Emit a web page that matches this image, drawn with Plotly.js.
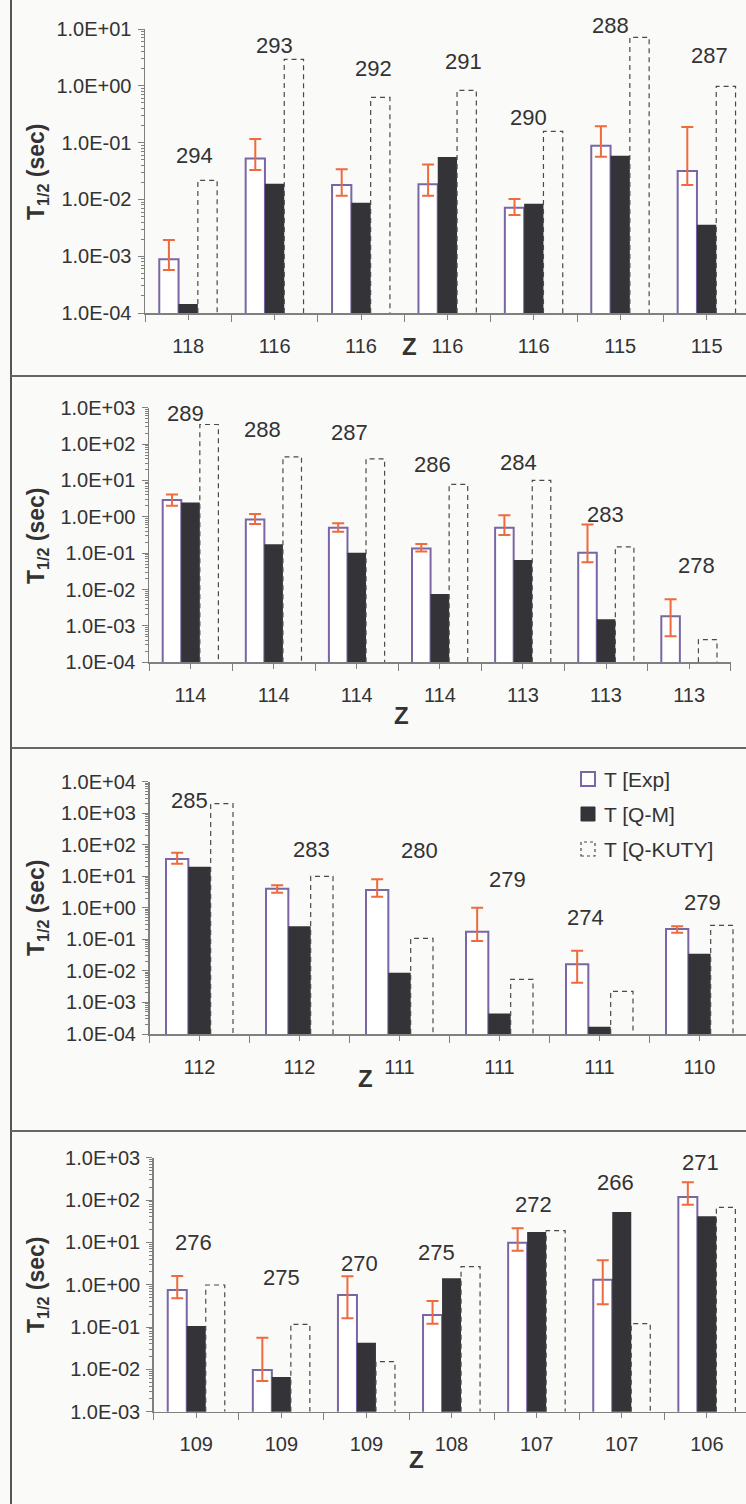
<!DOCTYPE html>
<html>
<head>
<meta charset="utf-8">
<script src="https://cdn.plot.ly/plotly-3.0.1.min.js"></script>
<style>
  html, body { margin: 0; padding: 0; background: #fafaf8; }
  #chart { width: 746px; height: 1504px; }
</style>
</head>
<body>
<div id="chart"></div>
<script>
// ---------------- DATA ----------------
// Panel 1
const p1Z      = ["118", "116", "116", "116", "116", "115", "115"];
const p1A      = ["294", "293", "292", "291", "290", "288", "287"];
const p1Exp    = [8.8e-4, 0.0525, 0.0179, 0.0185, 0.0071, 0.088, 0.0316];
const p1ExpHi  = [1.93e-3, 0.116, 0.034, 0.041, 0.0102, 0.194, 0.188];
const p1ExpLo  = [5.7e-4, 0.033, 0.0116, 0.0116, 0.0053, 0.0565, 0.0179];
const p1QM     = [1.44e-4, 0.0189, 0.00875, 0.0558, 0.0084, 0.0589, 0.00359];
const p1KUTY   = [0.0217, 2.93, 0.627, 0.83, 0.158, 7.14, 0.977];
const p1YTicks = ["1.0E-04", "1.0E-03", "1.0E-02", "1.0E-01", "1.0E+00", "1.0E+01"];

// Panel 2
const p2Z      = ["114", "114", "114", "114", "113", "113", "113"];
const p2A      = ["289", "288", "287", "286", "284", "283", "278"];
const p2Exp    = [2.88, 0.849, 0.499, 0.1355, 0.499, 0.1025, 0.00184];
const p2ExpHi  = [4.12, 1.19, 0.67, 0.178, 1.11, 0.618, 0.00538];
const p2ExpLo  = [2.0, 0.63, 0.388, 0.112, 0.314, 0.0559, 5.18e-4];
const p2QM     = [2.48, 0.175, 0.1025, 0.00752, 0.0646, 0.00152, null];
const p2KUTY   = [345, 44.5, 39.2, 7.77, 10.0, 0.15, 4.18e-4];
const p2YTicks = ["1.0E-04", "1.0E-03", "1.0E-02", "1.0E-01", "1.0E+00", "1.0E+01", "1.0E+02", "1.0E+03"];

// Panel 3
const p3Z      = ["112", "112", "111", "111", "111", "110"];
const p3A      = ["285", "283", "280", "279", "274", "279"];
const p3Exp    = [35.3, 4.05, 3.68, 0.175, 0.0162, 0.213];
const p3ExpHi  = [56.1, 5.18, 8.0, 1.01, 0.0438, 0.26];
const p3ExpLo  = [25.1, 3.02, 2.26, 0.089, 0.00424, 0.163];
const p3QM     = [20.2, 0.26, 0.0088, 4.5e-4, 1.71e-4, 0.0352];
const p3KUTY   = [2003, 10.0, 0.108, 0.0054, 0.00225, 0.279];
const p3YTicks = ["1.0E-04", "1.0E-03", "1.0E-02", "1.0E-01", "1.0E+00", "1.0E+01", "1.0E+02", "1.0E+03", "1.0E+04"];

// Panel 4
const p4Z      = ["109", "109", "109", "108", "107", "107", "106"];
const p4A      = ["276", "275", "270", "275", "272", "266", "271"];
const p4Exp    = [0.75, 0.00966, 0.571, 0.192, 9.84, 1.31, 118];
const p4ExpHi  = [1.61, 0.056, 1.58, 0.412, 21.5, 3.77, 262];
const p4ExpLo  = [0.477, 0.0053, 0.161, 0.12, 6.37, 0.344, 77.8];
const p4QM     = [0.106, 0.0066, 0.0427, 1.416, 17.6, 52.2, 41.2];
const p4KUTY   = [0.985, 0.116, 0.0152, 2.67, 18.9, 0.12, 67.3];
const p4YTicks = ["1.0E-03", "1.0E-02", "1.0E-01", "1.0E+00", "1.0E+01", "1.0E+02", "1.0E+03"];

const seriesNames = ["T [Exp]", "T [Q-M]", "T [Q-KUTY]"];

// ---------------- LAYOUT GEOMETRY (pixels) ----------------
const W = 746, H = 1504;
const FONT = "Liberation Sans, Arial, Helvetica, sans-serif";
const TXT = "#333333";
const AXC = "#808080";
const EXP_LINE = "#7a66a4";
const QM_FILL = "#343337";
const KUTY_LINE = "#4a4a4a";
const ERR_C = "#ef6a3c";
const BARGAP = 0.33;

const panels = [
  { z: p1Z, a: p1A, exp: p1Exp, hi: p1ExpHi, lo: p1ExpLo, qm: p1QM, ku: p1KUTY, yt: p1YTicks,
    x0: 145, cw: 86.4, yTop: 29, yBot: 313,
    lblDx: [6, 0, 12, 16, -5, -10, 3], lblDy: [25, 14, 29, 29, 14, 12, 31],
    zPos: [409, 346], tPos: 172 },
  { z: p2Z, a: p2A, exp: p2Exp, hi: p2ExpHi, lo: p2ExpLo, qm: p2QM, ku: p2KUTY, yt: p2YTicks,
    x0: 149, cw: 83.1, yTop: 407.7, yBot: 662.3,
    lblDx: [-5, -11, -7, -7, -4, -1, 7], lblDy: [11, 27, 26, 20, 18, 10, 34],
    zPos: [401, 715], tPos: 536 },
  { z: p3Z, a: p3A, exp: p3Exp, hi: p3ExpHi, lo: p3ExpLo, qm: p3QM, ku: p3KUTY, yt: p3YTicks,
    x0: 149.5, cw: 100, yTop: 781.7, yBot: 1034,
    lblDx: [-10, 12, 20, 8, -14, 3], lblDy: [3, 27, 29, 28, 33, 23],
    zPos: [365, 1078], tPos: 908 },
  { z: p4Z, a: p4A, exp: p4Exp, hi: p4ExpHi, lo: p4ExpLo, qm: p4QM, ku: p4KUTY, yt: p4YTicks,
    x0: 153.7, cw: 85.1, yTop: 1157.7, yBot: 1411.7,
    lblDx: [-3, 0, -7, -15, -3, -6, -6], lblDy: [33, 47, 13, 14, 24, 29, 20],
    zPos: [416, 1459], tPos: 1285 }
];

const traces = [];
const annotations = [];
const shapes = [];
const layout = {
  width: W, height: H,
  margin: { l: 0, r: 0, t: 0, b: 0 },
  paper_bgcolor: "#fafaf8",
  plot_bgcolor: "rgba(0,0,0,0)",
  barmode: "group",
  bargap: BARGAP,
  bargroupgap: 0,
  showlegend: false,
  font: { family: FONT, color: TXT }
};

const barW = (1 - BARGAP) / 3;

panels.forEach((p, k) => {
  const n = p.z.length;
  const idx = k === 0 ? "" : String(k + 1);
  const xa = "x" + idx, ya = "y" + idx;
  const xRight = Math.min(p.x0 + n * p.cw, W);
  const xMax = -0.5 + (xRight - p.x0) / p.cw;
  const yVals = p.yt.map(s => parseFloat(s));
  const lMin = Math.log10(yVals[0]), lMax = Math.log10(yVals[yVals.length - 1]);
  const xs = p.z.map((_, i) => i);

  const minorVals = [];
  for (let d = Math.round(lMin); d < Math.round(lMax); d++) {
    for (let m = 2; m <= 9; m++) minorVals.push(m * Math.pow(10, d));
  }
  const boundaries = [];
  for (let i = 0; i <= n; i++) boundaries.push(i - 0.5);

  layout["xaxis" + idx] = {
    domain: [p.x0 / W, xRight / W],
    anchor: ya,
    range: [-0.5, xMax],
    tickmode: "array", tickvals: xs, ticktext: p.z,
    ticks: "outside", ticklen: 5, tickwidth: 1, tickcolor: AXC,
    minor: { tickmode: "array", tickvals: boundaries, ticks: "outside", ticklen: 7, tickwidth: 1, tickcolor: AXC },
    showline: true, linecolor: AXC, linewidth: 1.5,
    showgrid: false, zeroline: false,
    tickfont: { family: FONT, size: 20, color: TXT },
    ticklabelstandoff: 9,
    fixedrange: true
  };
  layout["yaxis" + idx] = {
    domain: [1 - p.yBot / H, 1 - p.yTop / H],
    anchor: xa,
    type: "log",
    range: [lMin, lMax],
    tickmode: "array", tickvals: yVals, ticktext: p.yt,
    ticks: "outside", ticklen: 6, tickwidth: 1, tickcolor: AXC,
    minor: { tickmode: "array", tickvals: minorVals, ticks: "outside", ticklen: 3, tickwidth: 1, tickcolor: AXC },
    showline: true, linecolor: AXC, linewidth: 1.5,
    showgrid: false, zeroline: false,
    tickfont: { family: FONT, size: 20, color: TXT },
    ticklabelstandoff: 2,
    fixedrange: true
  };

  traces.push({
    type: "bar", name: seriesNames[0], x: xs, y: p.exp, xaxis: xa, yaxis: ya,
    marker: { color: "#ffffff", line: { color: EXP_LINE, width: 2 } },
    error_y: {
      type: "data", symmetric: false,
      array: p.exp.map((v, i) => p.hi[i] - v),
      arrayminus: p.exp.map((v, i) => v - p.lo[i]),
      color: ERR_C, thickness: 2, width: 6
    },
    hoverinfo: "skip"
  });
  traces.push({
    type: "bar", name: seriesNames[1], x: xs, y: p.qm, xaxis: xa, yaxis: ya,
    marker: { color: QM_FILL, line: { width: 0 } },
    hoverinfo: "skip"
  });
  traces.push({
    type: "bar", name: seriesNames[2], x: xs, y: p.ku, xaxis: xa, yaxis: ya,
    marker: { color: "rgba(255,255,255,0)", line: { width: 0 } },
    hoverinfo: "skip"
  });
  // dashed outline of the KUTY bars (bar outlines cannot be dashed)
  const ox = [], oy = [];
  const bottom = yVals[0];
  p.ku.forEach((v, i) => {
    if (v == null) return;
    const a = i + barW / 2, b = i + 1.5 * barW;
    ox.push(a, a, b, b, null);
    oy.push(bottom, v, v, bottom, null);
  });
  traces.push({
    type: "scatter", mode: "lines", x: ox, y: oy, xaxis: xa, yaxis: ya,
    line: { color: KUTY_LINE, width: 1.2, dash: "5px,4px" },
    cliponaxis: false, hoverinfo: "skip", connectgaps: false
  });

  // mass-number labels
  p.a.forEach((t, i) => {
    const top = Math.max(p.exp[i] || 0, p.hi[i] || 0, p.qm[i] || 0, p.ku[i] || 0);
    annotations.push({
      xref: xa, yref: ya, x: i, y: Math.log10(top),
      text: t, showarrow: false,
      xshift: p.lblDx[i], yshift: p.lblDy[i],
      xanchor: "center", yanchor: "middle",
      font: { family: FONT, size: 22, color: TXT }
    });
  });

  // Y title
  annotations.push({
    xref: "paper", yref: "paper", x: 37 / W, y: 1 - p.tPos / H,
    text: "<b>T<sub>1/2</sub> (sec)</b>", showarrow: false, textangle: -90,
    xanchor: "center", yanchor: "middle",
    font: { family: FONT, size: 23, color: TXT }
  });
  // Z label
  annotations.push({
    xref: "paper", yref: "paper", x: p.zPos[0] / W, y: 1 - p.zPos[1] / H,
    text: "<b>Z</b>", showarrow: false, xanchor: "center", yanchor: "middle",
    font: { family: FONT, size: 24, color: TXT }
  });
});

// Legend (drawn manually so the KUTY symbol can be dashed)
const legendRows = [
  { y: 779, fill: "#ffffff", line: EXP_LINE, dash: "solid", w: 2 },
  { y: 814, fill: QM_FILL, line: QM_FILL, dash: "solid", w: 1 },
  { y: 849, fill: "rgba(0,0,0,0)", line: KUTY_LINE, dash: "3px,3px", w: 1.2 }
];
legendRows.forEach((r, i) => {
  shapes.push({
    type: "rect", xref: "paper", yref: "paper",
    x0: 581 / W, x1: 595 / W, y0: 1 - (r.y + 7) / H, y1: 1 - (r.y - 7) / H,
    fillcolor: r.fill, line: { color: r.line, width: r.w, dash: r.dash }
  });
  annotations.push({
    xref: "paper", yref: "paper", x: 602 / W, y: 1 - r.y / H,
    text: seriesNames[i], showarrow: false, xanchor: "left", yanchor: "middle",
    font: { family: FONT, size: 21, color: TXT }
  });
});

// Frame lines
shapes.push({ type: "line", xref: "paper", yref: "paper", x0: 11 / W, x1: 11 / W, y0: 0, y1: 1,
  line: { color: "#555555", width: 2 } });
[376, 748, 1131].forEach(yy => {
  shapes.push({ type: "line", xref: "paper", yref: "paper", x0: 11 / W, x1: 1, y0: 1 - yy / H, y1: 1 - yy / H,
    line: { color: "#666666", width: 2 } });
});

layout.annotations = annotations;
layout.shapes = shapes;

Plotly.newPlot("chart", traces, layout, { displayModeBar: false, staticPlot: true });
</script>
</body>
</html>
